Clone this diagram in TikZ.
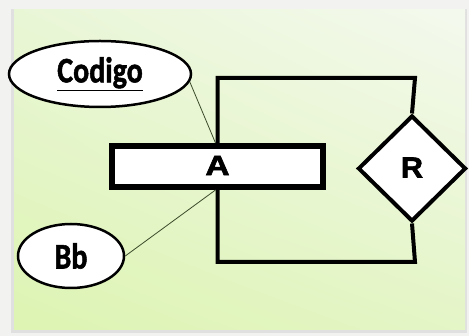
\documentclass[tikz,border=0pt]{standalone}
\usepackage{fontspec}
\setmainfont{Carlito}[BoldFeatures={FakeBold=1.5}]
\newfontfamily\arialfont{Liberation Sans}[BoldFeatures={FakeBold=2}]
\usetikzlibrary{shapes.geometric,shadings}
\definecolor{bgout}{HTML}{F2F2F0}
\definecolor{ulc}{HTML}{E9F6D6}
\definecolor{urc}{HTML}{F4F9EE}
\definecolor{llc}{HTML}{DDF4B2}
\definecolor{lrc}{HTML}{E4F5C6}
\definecolor{thinline}{HTML}{3A4A2A}
\tikzset{
  attr/.style={draw=black, line width=2.5pt, fill=white, ellipse, inner sep=0pt, font=\bfseries\fontsize{30}{30}\selectfont},
  entity/.style={draw=black, line width=6pt, fill=white, rectangle, inner sep=0pt, font=\arialfont\bfseries\fontsize{28}{28}\selectfont},
  rel/.style={draw=black, line width=4pt, fill=white, diamond, inner sep=0pt, font=\arialfont\bfseries\fontsize{29}{29}\selectfont},
  loopline/.style={line width=4pt, line join=miter},
  attrline/.style={line width=0.8pt, draw=thinline}
}
\begin{document}
\begin{tikzpicture}[x=1pt, y=-1pt]
\useasboundingbox (0,0) rectangle (469,336);
\fill[bgout] (0,0) rectangle (469,336);
\fill[black!12] (11,9) rectangle (467,333);
\shade[upper left=ulc, upper right=urc, lower left=llc, lower right=lrc] (14,10) rectangle (465,330);
\coordinate (tc) at (217.5,78);
\coordinate (trc) at (415,78);
\coordinate (bc) at (217.5,262);
\coordinate (brc) at (415,262);
\node[entity, minimum width=211pt, minimum height=41pt] (A) at (217.5,166.5) {\raisebox{2pt}{\scalebox{1.2}[1]{A}}};
\node[rel, minimum width=108pt, minimum height=106pt] (R) at (412,168.5) {\raisebox{2pt}{\scalebox{1.05}[1]{R}}};
\draw[loopline] (A.north) -- (tc) -- (trc) -- (R.north);
\draw[loopline] (A.south) -- (bc) -- (brc) -- (R.south);
\node[attr, minimum width=182pt, minimum height=66pt] (C) at (100,74) {\scalebox{1}[1.2]{\underline{Codigo}}};
\node[attr, minimum width=106pt, minimum height=64pt] (B) at (71,256) {\scalebox{1}[1.2]{Bb}};
\draw[attrline] (C.-5) -- ([xshift=-2pt]A.north);
\draw[attrline] (B.east) -- ([xshift=-2pt]A.south);
\end{tikzpicture}
\end{document}
